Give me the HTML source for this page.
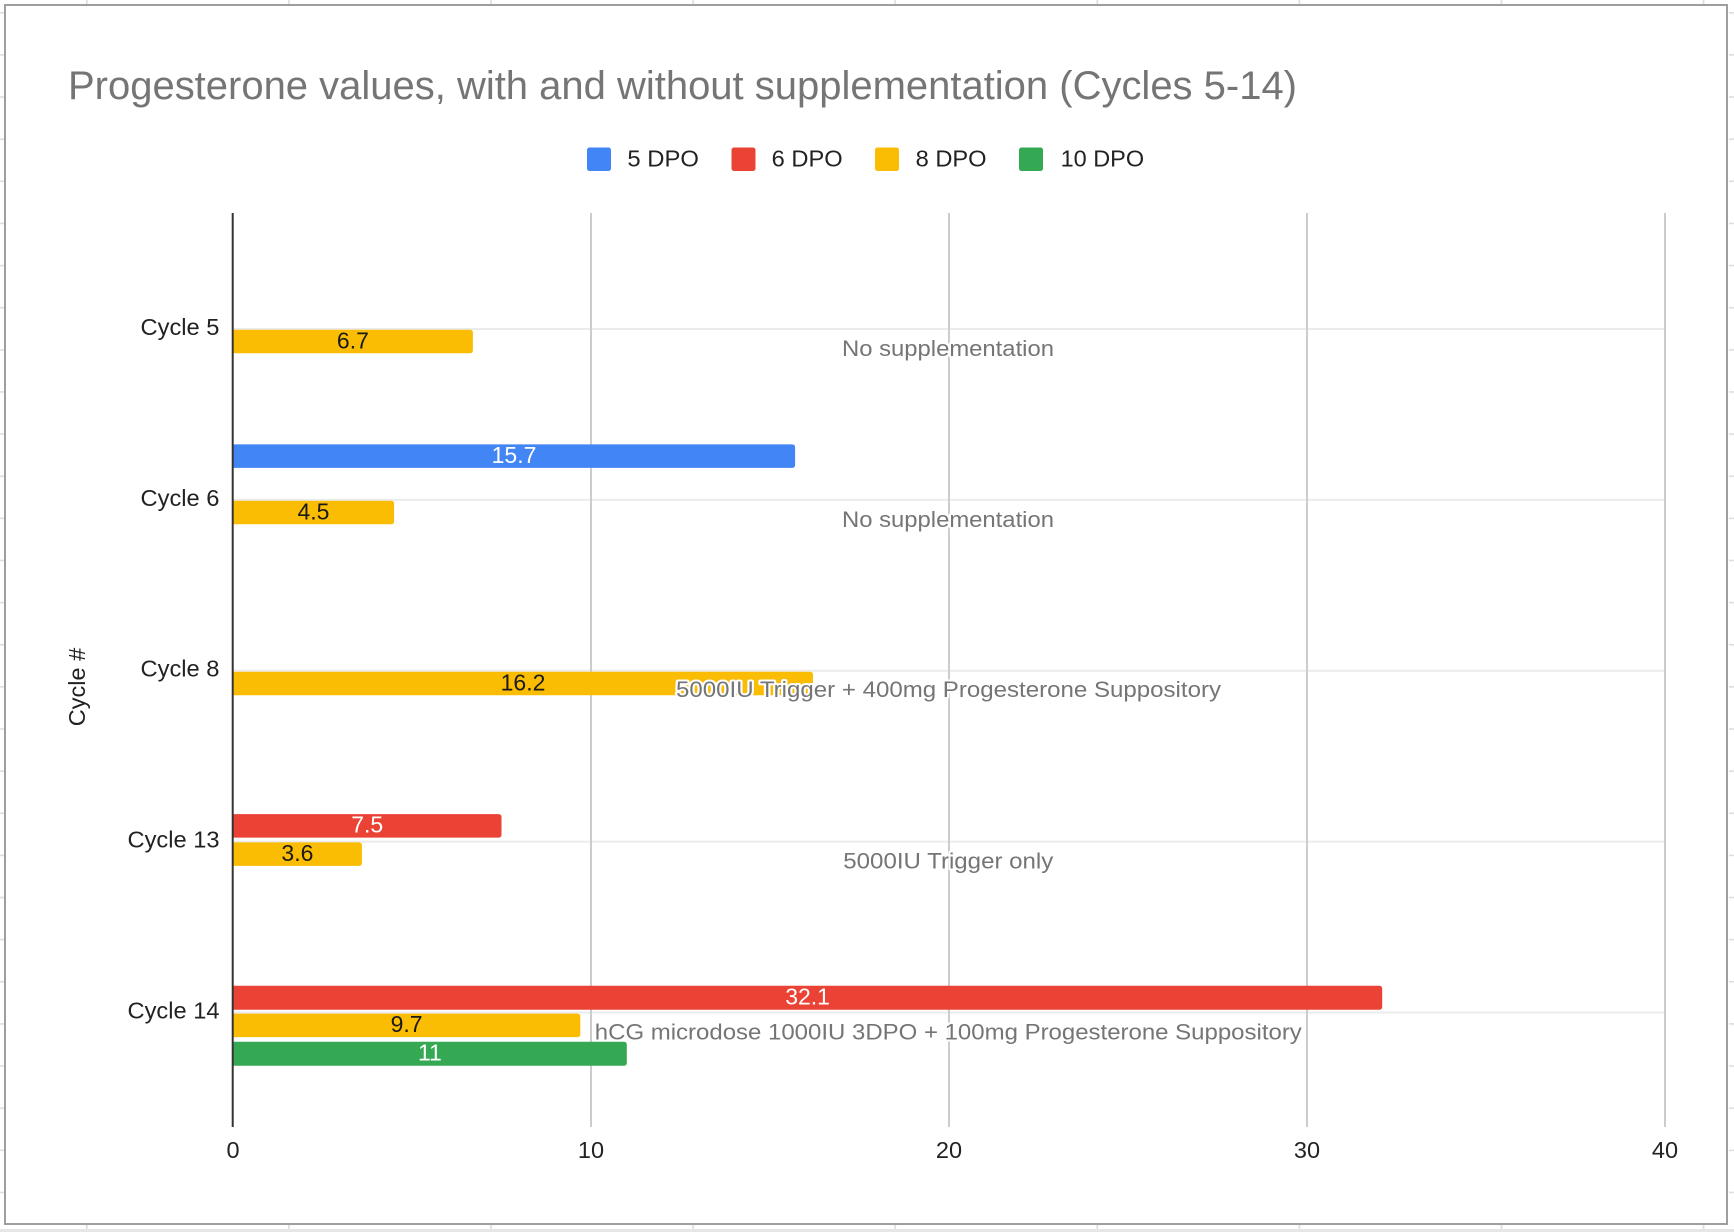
<!DOCTYPE html>
<html>
<head>
<meta charset="utf-8">
<style>
  html, body { margin: 0; padding: 0; background: #ffffff; }
  body { width: 1734px; height: 1232px; overflow: hidden; }
  svg { display: block; }
  text { font-family: "Liberation Sans", Arial, sans-serif; }
</style>
</head>
<body>
<svg width="1734" height="1232" viewBox="0 0 1734 1232" xmlns="http://www.w3.org/2000/svg">
  <defs>
    <pattern id="rowsL" x="0" y="12" width="10" height="42.13" patternUnits="userSpaceOnUse">
      <rect x="0" y="0" width="10" height="1.6" fill="#dedede"/>
    </pattern>
    <pattern id="cols" x="86" y="0" width="202.1" height="10" patternUnits="userSpaceOnUse">
      <rect x="0" y="0" width="1.6" height="10" fill="#dedede"/>
    </pattern>
  </defs>

  <!-- spreadsheet background strips -->
  <rect x="0" y="0" width="1734" height="1232" fill="#ffffff"/>
  <rect x="0" y="0" width="1734" height="4" fill="url(#cols)"/>
  <rect x="0" y="0" width="4" height="1232" fill="url(#rowsL)"/>
  <rect x="1729" y="0" width="5" height="1232" fill="url(#rowsL)"/>
  <rect x="0" y="1225" width="1734" height="7" fill="url(#cols)"/>
  <rect x="0" y="1229" width="1734" height="3" fill="#e6e6e6"/>

  <!-- chart box -->
  <rect x="5" y="5" width="1722" height="1219" fill="#ffffff" stroke="#9e9e9e" stroke-width="2"/>

  <!-- title -->
  <text x="68" y="99" font-size="40" fill="#757575" textLength="1229" lengthAdjust="spacingAndGlyphs">Progesterone values, with and without supplementation (Cycles 5-14)</text>

  <!-- legend -->
  <rect x="587" y="147.5" width="24" height="23.5" rx="2.5" fill="#4285f4"/>
  <text x="627.4" y="166.7" font-size="23.5" fill="#222222" textLength="71.5" lengthAdjust="spacingAndGlyphs">5 DPO</text>
  <rect x="731.5" y="147.5" width="24" height="23.5" rx="2.5" fill="#ea4335"/>
  <text x="771.7" y="166.7" font-size="23.5" fill="#222222" textLength="71" lengthAdjust="spacingAndGlyphs">6 DPO</text>
  <rect x="875" y="147.5" width="24" height="23.5" rx="2.5" fill="#fbbc04"/>
  <text x="915.6" y="166.7" font-size="23.5" fill="#222222" textLength="71" lengthAdjust="spacingAndGlyphs">8 DPO</text>
  <rect x="1019" y="147.5" width="24" height="23.5" rx="2.5" fill="#34a853"/>
  <text x="1060.6" y="166.7" font-size="23.5" fill="#222222" textLength="83.5" lengthAdjust="spacingAndGlyphs">10 DPO</text>

  <!-- horizontal category gridlines -->
  <g stroke="#ebebeb" stroke-width="2">
    <line x1="233" y1="329" x2="1666" y2="329"/>
    <line x1="233" y1="499.9" x2="1666" y2="499.9"/>
    <line x1="233" y1="670.75" x2="1666" y2="670.75"/>
    <line x1="233" y1="841.6" x2="1666" y2="841.6"/>
    <line x1="233" y1="1012.5" x2="1666" y2="1012.5"/>
  </g>

  <!-- vertical value gridlines -->
  <g stroke="#cccccc" stroke-width="2">
    <line x1="591" y1="213" x2="591" y2="1127"/>
    <line x1="949" y1="213" x2="949" y2="1127"/>
    <line x1="1307" y1="213" x2="1307" y2="1127"/>
    <line x1="1665" y1="213" x2="1665" y2="1127"/>
  </g>

  <!-- bars (right corners rounded) -->
  <!-- Cycle 5 yellow 6.7 -->
  <path d="M233 329.8 H469.9 Q472.9 329.8 472.9 332.8 V350.3 Q472.9 353.3 469.9 353.3 H233 Z" fill="#fbbc04"/>
  <!-- Cycle 6 blue 15.7 -->
  <path d="M233 444.4 H792.1 Q795.1 444.4 795.1 447.4 V464.9 Q795.1 467.9 792.1 467.9 H233 Z" fill="#4285f4"/>
  <!-- Cycle 6 yellow 4.5 -->
  <path d="M233 500.7 H391.1 Q394.1 500.7 394.1 503.7 V521.2 Q394.1 524.2 391.1 524.2 H233 Z" fill="#fbbc04"/>
  <!-- Cycle 8 yellow 16.2 -->
  <path d="M233 671.8 H810 Q813 671.8 813 674.8 V692.3 Q813 695.3 810 695.3 H233 Z" fill="#fbbc04"/>
  <!-- Cycle 13 red 7.5 -->
  <path d="M233 814.1 H498.5 Q501.5 814.1 501.5 817.1 V834.6 Q501.5 837.6 498.5 837.6 H233 Z" fill="#ea4335"/>
  <!-- Cycle 13 yellow 3.6 -->
  <path d="M233 842.4 H358.9 Q361.9 842.4 361.9 845.4 V862.9 Q361.9 865.9 358.9 865.9 H233 Z" fill="#fbbc04"/>
  <!-- Cycle 14 red 32.1 -->
  <path d="M233 985.7 H1379.2 Q1382.2 985.7 1382.2 988.7 V1006.7 Q1382.2 1009.7 1379.2 1009.7 H233 Z" fill="#ea4335"/>
  <!-- Cycle 14 yellow 9.7 -->
  <path d="M233 1013.6 H577.3 Q580.3 1013.6 580.3 1016.6 V1034.1 Q580.3 1037.1 577.3 1037.1 H233 Z" fill="#fbbc04"/>
  <!-- Cycle 14 green 11 -->
  <path d="M233 1041.8 H623.8 Q626.8 1041.8 626.8 1044.8 V1062.8 Q626.8 1065.8 623.8 1065.8 H233 Z" fill="#34a853"/>

  <!-- zero axis -->
  <line x1="232.7" y1="213" x2="232.7" y2="1127" stroke="#333333" stroke-width="2"/>

  <!-- data labels -->
  <g font-size="23" text-anchor="middle">
    <text x="352.9" y="348.5" fill="#1a1a1a">6.7</text>
    <text x="514" y="463" fill="#ffffff">15.7</text>
    <text x="313.5" y="519.3" fill="#1a1a1a">4.5</text>
    <text x="523" y="690.3" fill="#1a1a1a">16.2</text>
    <text x="367.2" y="832.6" fill="#ffffff">7.5</text>
    <text x="297.4" y="861" fill="#1a1a1a">3.6</text>
    <text x="807.6" y="1004.4" fill="#ffffff">32.1</text>
    <text x="406.6" y="1032.2" fill="#1a1a1a">9.7</text>
    <text x="429.9" y="1060.5" fill="#ffffff">11</text>
  </g>

  <!-- annotations -->
  <g font-size="22" fill="#757575" text-anchor="middle" stroke="#ffffff" stroke-width="4" stroke-linejoin="round" style="paint-order: stroke fill;">
    <text x="948" y="356" textLength="212" lengthAdjust="spacingAndGlyphs">No supplementation</text>
    <text x="948" y="527" textLength="212" lengthAdjust="spacingAndGlyphs">No supplementation</text>
    <text x="948.5" y="697" textLength="545" lengthAdjust="spacingAndGlyphs">5000IU Trigger + 400mg Progesterone Suppository</text>
    <text x="948.3" y="868.3" textLength="210" lengthAdjust="spacingAndGlyphs">5000IU Trigger only</text>
    <text x="948.3" y="1039.4" textLength="707" lengthAdjust="spacingAndGlyphs">hCG microdose 1000IU 3DPO + 100mg Progesterone Suppository</text>
  </g>

  <!-- category labels -->
  <g font-size="23.5" fill="#222222" text-anchor="end">
    <text x="219.5" y="335" textLength="79" lengthAdjust="spacingAndGlyphs">Cycle 5</text>
    <text x="219.5" y="505.8" textLength="79" lengthAdjust="spacingAndGlyphs">Cycle 6</text>
    <text x="219.5" y="676.7" textLength="79" lengthAdjust="spacingAndGlyphs">Cycle 8</text>
    <text x="219.5" y="847.5" textLength="92" lengthAdjust="spacingAndGlyphs">Cycle 13</text>
    <text x="219.5" y="1018.4" textLength="92" lengthAdjust="spacingAndGlyphs">Cycle 14</text>
  </g>

  <!-- axis title -->
  <text x="0" y="0" font-size="23.5" fill="#222222" text-anchor="middle" transform="translate(85 687) rotate(-90)">Cycle #</text>

  <!-- value tick labels -->
  <g font-size="23.5" fill="#222222" text-anchor="middle">
    <text x="233" y="1158">0</text>
    <text x="591" y="1158">10</text>
    <text x="949" y="1158">20</text>
    <text x="1307" y="1158">30</text>
    <text x="1665" y="1158">40</text>
  </g>
</svg>
</body>
</html>
